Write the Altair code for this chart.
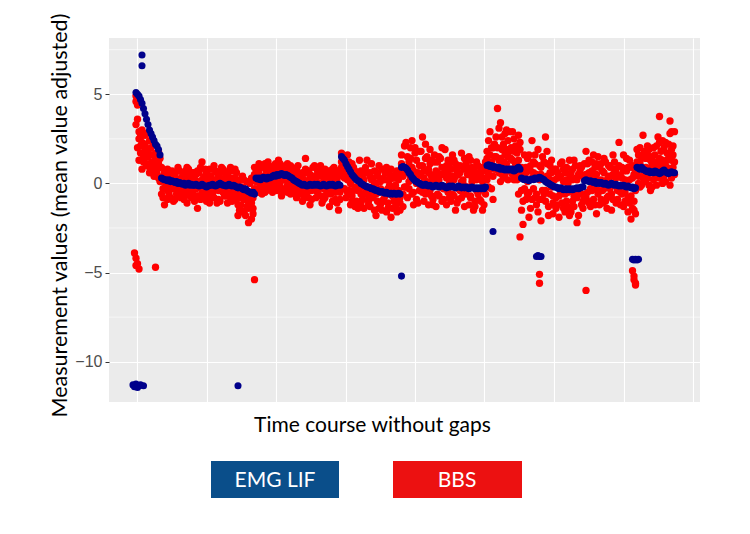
import altair as alt
import pandas as pd

# EMG LIF (blue) series, one value per time step (10 per line)
blue_main = [
    5.1, 5.0, 4.9, 4.7, 4.5, 4.2, 3.9, 3.6, 3.3, 3.0,
    2.8, 2.6, 2.4, 2.2, 2.1, 1.9, 1.6, 0.3, 0.25, 0.2,
    0.2, 0.15, 0.2, 0.1, 0.15, 0.1, 0.05, 0.1, 0.0, 0.05,
    0.0, -0.05, 0.0, -0.1, -0.05, 0.0, -0.1, -0.05, -0.1, -0.1,
    -0.05, -0.1, -0.15, -0.1, -0.05, -0.1, -0.15, -0.2, -0.15, -0.1,
    -0.1, -0.05, -0.1, -0.15, -0.1, -0.05, 0.0, -0.05, -0.1, -0.1,
    -0.15, -0.1, -0.05, -0.1, -0.15, -0.1, -0.15, -0.2, -0.25, -0.2,
    -0.25, -0.3, -0.35, -0.3, -0.4, -0.45, -0.5, -0.55, -0.5, -0.6,
    0.3, 0.25, 0.3, 0.2, 0.3, 0.35, 0.3, 0.25, 0.35, 0.3,
    0.35, 0.4, 0.45, 0.4, 0.5, 0.45, 0.5, 0.55, 0.5, 0.45,
    0.5, 0.45, 0.4, 0.35, 0.3, 0.2, 0.15, 0.1, 0.05, 0.0,
    -0.05, -0.1, -0.05, -0.1, -0.15, -0.1, -0.05, -0.1, -0.1, -0.05,
    -0.1, -0.05, -0.1, -0.15, -0.1, -0.05, -0.1, -0.15, -0.1, -0.05,
    -0.1, -0.05, -0.1, -0.15, -0.1, -0.05, -0.1, 1.5, 1.4, 1.3,
    1.1, 0.95, 0.8, 0.65, 0.5, 0.4, 0.3, 0.2, 0.15, 0.1,
    0.0, -0.05, -0.1, -0.15, -0.2, -0.2, -0.25, -0.3, -0.3, -0.35,
    -0.4, -0.4, -0.45, -0.5, -0.45, -0.5, -0.55, -0.5, -0.55, -0.6,
    -0.55, -0.6, -0.55, -0.6, -0.6, -0.55, -0.6, 0.9, 0.95, 0.9,
    0.85, 0.75, 0.6, 0.5, 0.35, 0.25, 0.15, 0.1, 0.05, 0.0,
    -0.05, -0.1, -0.1, -0.05, -0.1, -0.15, -0.1, -0.15, -0.2, -0.15,
    -0.1, -0.15, -0.2, -0.15, -0.1, -0.15, -0.2, -0.25, -0.2, -0.15,
    -0.2, -0.15, -0.2, -0.25, -0.2, -0.15, -0.2, -0.25, -0.2, -0.25,
    -0.2, -0.25, -0.3, -0.25, -0.2, -0.25, -0.3, -0.25, -0.3, -0.25,
    -0.3, -0.25, -0.3, -0.2, 1.0, 1.05, 0.95, 1.0, 0.9, 0.95,
    0.9, 0.85, 0.9, 0.8, 0.85, 0.8, 0.75, 0.8, 0.75, 0.8,
    0.75, 0.8, 0.7, 0.75, 0.85, 0.9, 0.8, 0.3, 0.25, 0.2,
    0.25, 0.2, 0.15, 0.2, 0.25, 0.2, 0.3, 0.25, 0.3, 0.35,
    0.3, 0.25, 0.2, 0.1, 0.05, 0.0, -0.05, -0.1, -0.15, -0.2,
    -0.2, -0.25, -0.3, -0.25, -0.3, -0.35, -0.3, -0.35, -0.3, -0.35,
    -0.3, -0.35, -0.3, -0.3, -0.25, -0.3, -0.25, -0.2, -0.2, 0.15,
    0.2, 0.15, 0.1, 0.15, 0.1, 0.05, 0.1, 0.0, 0.05, 0.0,
    0.05, 0.0, -0.05, 0.0, -0.05, -0.1, -0.05, 0.0, -0.05, -0.1,
    -0.05, -0.1, -0.15, -0.1, -0.15, -0.1, -0.15, -0.2, -0.15, -0.2,
    -0.25, -0.2, -0.3, -0.25, 0.9, 0.85, 0.8, 0.9, 0.8, 0.75,
    0.7, 0.65, 0.7, 0.6, 0.65, 0.6, 0.7, 0.65, 0.6, 0.55,
    0.6, 0.7, 0.75, 0.65, 0.6, 0.55, 0.6, 0.65, 0.6, 0.6,
]

# BBS (red) series, first reading per time step
red_main = [
    4.9, 4.4, 2.9, 2.1, 3.0, 1.4, 2.7, 1.9, 1.1, 2.4,
    1.6, 0.8, 2.2, 1.3, 0.5, 1.8, 0.9, -0.6, 0.4, -1.2,
    0.5, -0.4, 0.2, -0.8, 0.7, -0.2, 0.3, -0.6, 0.9, 0.0,
    -0.5, 0.6, -0.9, 0.2, -0.3, 0.8, -0.7, 0.4, -0.1, -1.0,
    0.5, -1.4, 0.1, 0.9, -0.4, 0.3, -0.8, 0.6, -0.2, -1.1,
    0.4, -0.6, 1.0, -0.3, 0.2, -0.9, 0.6, -0.1, -0.5, 0.3,
    -0.7, 0.5, -0.2, 0.9, -1.0, 0.1, -0.4, 0.6, -1.2, -0.6,
    -1.5, -0.2, -0.9, -1.8, 0.1, -1.1, -0.5, -2.0, -1.4, -0.3,
    0.8, -0.3, 1.1, 0.2, -0.6, 0.9, 0.4, -0.2, 1.2, 0.0,
    0.6, -0.5, 1.0, 0.3, -0.1, 1.3, 0.5, -0.7, 0.8, 0.2,
    -0.3, 1.1, 0.4, -0.6, 0.9, 0.0, 0.6, -0.8, 0.3, -0.4,
    0.5, -1.0, 0.2, 1.4, -0.5, 0.7, -1.2, 0.1, 0.9, -0.3,
    -0.8, 0.4, -0.2, 1.0, -1.1, 0.3, 0.8, -0.6, 0.1, -1.3,
    0.6, -0.4, 0.9, -0.9, 0.2, -1.5, 0.5, 1.7, 0.4, 1.2,
    -0.8, 1.6, 0.3, -1.2, 1.1, -0.4, 0.7, -1.0, 0.2, 1.3,
    -0.6, 0.5, -1.4, 0.9, -0.2, -1.0, 0.4, 1.1, -0.8, 0.0,
    -1.8, 0.6, -0.5, -1.2, 0.8, -0.9, 0.2, -1.6, -0.3, 0.5,
    -1.9, -0.7, 0.3, -1.3, 0.7, -0.4, -1.1, 1.6, 0.4, 2.1,
    2.3, -0.8, 1.2, 0.3, 2.4, -0.5, 1.7, 0.0, -1.1, 1.0,
    0.5, 2.6, -1.0, 1.4, -0.4, 0.8, 1.9, -0.7, 0.2, 1.2,
    -1.3, 0.6, 1.5, -0.2, 0.9, -0.9, 1.9, 0.3, -0.5, 1.1,
    -1.0, 0.4, 1.3, -1.5, 0.7, -0.3, 1.0, -0.8, 0.2, 1.4,
    -0.6, 0.9, -1.2, 1.3, 0.1, -1.5, 0.6, -0.4, 1.0, -0.9,
    0.4, -1.5, 0.7, -0.6, 1.8, 0.5, 2.9, 1.2, -0.9, 2.2,
    1.5, 4.2, 0.6, 3.4, 1.9, 0.3, 2.8, 1.1, 2.4, 0.7,
    2.0, 1.3, 2.5, 0.4, 1.7, -0.6, 2.3, -1.5, -2.3, 0.5,
    -0.9, 1.4, -1.9, 0.7, 2.4, -0.3, 1.1, -1.2, 1.9, 0.2,
    -2.1, 1.5, -0.6, 2.6, 0.4, -1.3, 1.0, -0.2, -1.7, 0.8,
    -0.8, 0.3, -1.9, 1.1, -0.4, -1.4, 0.6, -1.0, 0.0, 1.3,
    -1.6, 0.2, -0.7, 1.0, -2.2, -0.3, 0.7, -1.2, 0.4, -0.8,
    1.8, -0.5, 0.6, -1.3, 1.2, -0.2, 0.9, -1.7, 1.5, 0.1,
    -0.9, 0.7, -0.3, 1.2, -1.4, 0.4, 0.9, -0.6, 1.6, -0.1,
    -1.1, 0.5, 2.3, -0.5, 0.9, -1.3, 0.2, 1.4, -0.8, 1.3,
    -2.0, 0.3, -1.0, -0.4, 1.2, 0.4, 2.0, 0.9, 2.7, 0.1,
    1.4, 0.3, 1.9, -0.4, 1.1, 0.6, 1.6, -0.1, 0.9, 2.3,
    0.5, 1.3, 2.0, 0.1, 1.7, 0.8, 2.8, 0.3, 2.1, 1.2,
]

# BBS (red) series, second reading per time step
red_second = [
    4.6, 3.6, 2.5, 1.7, 2.3, 1.2, 1.9, 2.8, 1.5, 0.9,
    2.0, 1.2, 0.6, 1.7, 0.9, 0.3, 1.4, 0.2, -0.3, 0.6,
    -0.1, 0.8, -0.6, 0.4, -0.3, 0.6, -0.9, 0.1, -0.4, 0.7,
    0.3, -0.2, 0.5, -0.6, 0.9, -0.4, 0.1, -0.8, 0.6, 0.2,
    -0.3, 0.7, -0.7, 0.0, 1.2, -0.5, 0.4, -1.0, 0.2, 0.8,
    -0.8, 0.1, -0.4, 0.7, -1.1, 0.4, -0.3, 0.9, 0.0, -0.7,
    0.2, -0.5, 0.7, -0.8, 0.3, -0.3, 0.8, -0.9, 0.0, -1.5,
    -0.8, -1.6, 0.2, -0.6, -1.3, -2.2, -0.9, 0.3, -1.7, 0.9,
    0.1, 0.6, -0.5, 0.9, -0.2, 0.4, 1.1, -0.4, 0.6, 0.9,
    -0.2, 0.8, 0.2, 1.1, -0.4, 0.6, 0.0, 1.0, 0.4, -0.3,
    0.7, -0.1, 0.9, 0.2, -0.4, 0.6, -0.6, 0.2, 1.0, -0.1,
    -0.6, 0.3, -0.3, 0.8, 0.0, -0.8, 0.5, -0.4, 0.3, 1.0,
    0.2, -0.5, 0.7, -0.1, 0.5, -0.9, 0.0, 0.6, -0.4, 0.4,
    -0.6, 0.8, -0.2, 0.4, -1.1, 0.7, -0.5, 0.9, 1.5, -0.3,
    0.6, -0.5, 1.2, 0.0, -0.7, 0.9, -1.3, 0.5, -0.4, -1.1,
    0.7, -0.9, 0.2, -0.5, 1.3, -1.2, 0.6, -0.4, 0.3, -1.5,
    0.0, -1.0, 1.0, -0.3, -1.5, 0.3, -0.7, 0.9, -1.1, -0.1,
    0.8, -1.4, -0.3, 0.5, -1.6, 0.2, -0.8, 0.6, -1.3, -0.2,
    0.6, 1.5, -0.3, 2.0, 0.9, -1.2, 0.4, 1.3, 0.6, -0.4,
    1.8, -0.5, 0.7, 2.2, 0.1, -1.2, 1.1, 0.4, -0.9, 1.6,
    0.3, 1.2, -0.7, 0.5, 2.0, -0.3, 0.8, -1.2, 1.3, 0.0,
    0.8, -0.6, 0.2, 1.1, -1.1, 0.5, -0.4, 1.7, 0.0, -1.3,
    1.1, -0.2, 0.6, -0.8, 0.9, 0.3, -1.0, 1.2, -0.6, 0.4,
    -1.0, 0.9, -0.3, 1.2, 0.2, 2.4, 1.6, -0.3, 2.0, 0.8,
    2.6, 0.9, 3.1, 1.4, 0.5, 2.2, 1.6, 3.0, 0.2, 1.8,
    0.8, 2.9, 0.2, 2.1, 1.0, 2.7, 0.6, 0.9, -1.0, 1.6,
    0.6, -0.6, 1.6, -1.4, 0.3, 1.2, -0.8, 0.5, -1.6, 1.0,
    0.5, -0.9, 1.2, -0.4, 1.8, -1.8, 0.6, 1.3, -0.7, -1.2,
    0.8, -1.2, 0.4, -0.6, 1.2, 0.1, -1.6, 0.9, -0.5, -1.8,
    0.6, -1.0, 1.3, -0.4, 0.2, -1.8, 1.0, -0.6, -1.4, 1.1,
    -0.8, 1.1, -1.1, 0.4, -0.4, 1.6, -1.2, 0.5, -0.6, 0.9,
    1.1, -0.4, 1.4, -1.0, 0.2, -0.7, 1.0, -1.5, 0.5, 0.8,
    0.3, -0.9, 1.0, 0.4, -0.6, 1.6, -1.0, 0.7, -1.6, 0.2,
    0.9, -1.4, 0.5, -1.7, 0.6, 1.6, -0.2, 1.4, 0.3, 1.8,
    0.2, 2.1, 0.8, 1.3, -0.2, 2.0, 0.4, 1.2, 2.6, 0.3,
    1.8, 0.0, 1.0, 2.3, 0.6, 1.4, -0.1, 1.9, 0.9, 2.9,
]

# BBS (red) series, third reading per time step
red_third = [
    3.3, 2.0, 1.3, 2.6, 0.8, 1.6, 2.2, 1.0, 1.8, 0.6,
    1.1, 2.5, 0.4, 1.5, 0.7, 1.1, 0.1, 0.9, -0.8, 0.1,
    0.4, -0.9, 0.6, -0.2, 0.0, -1.0, 0.5, -0.3, 0.2, -0.7,
    -0.8, 0.1, -0.4, 0.7, -1.1, 0.3, 0.5, -0.3, -0.6, 0.6,
    0.1, -0.7, 0.6, -0.9, 0.2, -0.2, 0.8, -0.5, 0.4, -0.6,
    -0.3, 0.8, -0.8, 0.2, 0.6, -0.4, -1.0, 0.2, 0.8, -0.2,
    0.5, -1.1, 0.1, -0.4, 0.7, -0.7, 0.3, -0.5, -1.8, 0.2,
    -1.2, 0.4, -1.6, -0.4, -0.7, -1.4, 0.0, -1.1, -0.8, 0.5,
    -0.4, 0.4, 0.7, -0.1, 1.0, 0.1, -0.5, 0.7, 0.1, -0.3,
    0.9, 0.1, -0.3, 0.6, 0.8, -0.2, 1.1, 0.2, -0.4, 0.7,
    0.2, -0.5, 0.6, 1.0, -0.2, 0.4, -0.3, 0.8, -0.6, 0.5,
    0.1, 0.6, -0.8, 0.0, 0.6, -0.4, 0.3, -0.9, -0.2, 0.4,
    -0.4, 0.7, 0.0, -0.7, 0.5, -0.3, -0.8, 0.3, 0.7, -0.5,
    0.2, -1.0, 0.4, -0.5, 0.7, -0.2, -0.9, 1.2, 0.6, 0.3,
    0.9, 0.2, -0.4, 0.8, -1.0, 0.3, -0.2, 0.6, -1.4, -0.3,
    -1.1, 0.3, -0.6, -0.2, 0.6, -0.7, -1.3, 0.2, -0.3, 0.7,
    -0.6, 0.4, -1.4, 0.1, -0.4, -1.0, 0.6, -0.6, -1.4, 0.2,
    -0.5, 0.3, -1.0, -0.1, -0.8, 0.4, -1.5, 1.1, -0.6, 0.8,
    -0.2, 0.9, 0.1, 1.4, -0.6, 0.7, 2.0, -0.9, 0.4, 1.8,
    -0.3, 1.0, 0.3, -0.6, 1.5, 0.6, -0.4, 1.3, -1.2, 0.5,
    0.7, -0.6, 0.2, 1.4, -1.0, 0.5, -0.2, 1.0, 0.6, -0.8,
    0.3, 1.6, -0.7, 0.4, 0.9, -0.9, 0.6, 0.1, -0.5, 0.8,
    -0.3, 0.5, 1.5, -0.7, 0.3, 0.8, -1.3, 0.2, 0.6, -0.4,
    0.7, 0.1, -1.2, 0.3, 1.4, -0.2, 0.8, 2.0, 0.4, 1.5,
    0.8, 2.0, 1.3, 0.1, 2.6, 1.2, 0.5, 1.9, 1.5, 2.9,
    1.4, 0.5, 1.8, 1.1, 0.2, 1.3, 1.9, -0.4, 0.3, -0.3,
    0.9, 0.1, -0.5, 1.0, -0.9, 0.6, 1.6, -0.6, 0.4, -0.9,
    0.9, -0.4, 0.3, -1.0, 1.1, 0.3, -0.6, 0.6, -1.1, 0.2,
    -1.4, 0.6, -0.7, 0.4, -1.1, 0.8, -0.6, 0.2, -1.3, 0.5,
    -0.4, 0.8, -1.3, 0.3, -0.8, 0.5, -0.5, 0.9, -1.0, 0.3,
    0.5, -1.0, 1.3, -0.3, 0.7, -0.9, 0.3, 1.1, -0.4, -1.2,
    0.2, -1.1, 0.6, 0.1, -0.8, 1.0, -0.3, 0.4, -0.9, 1.2,
    0.8, -0.4, 0.4, -1.2, 0.3, 0.7, -0.5, -0.2, 0.9, -1.1,
    -0.7, 1.0, -1.5, 0.7, 1.9, 0.0, 1.1, -0.1, 1.6, 0.6,
    0.9, 1.6, -0.1, 0.7, 1.5, 0.2, 1.0, 2.1, 0.4, 1.4,
    1.0, 2.4, 0.4, 1.2, 0.9, 2.2, 0.7, 1.3, 1.6, 0.5,
]

# isolated readings (time step, value)
blue_out_t = [-2, -1, 0, 1, 2, 3, 5, 4, 4, 68, 177, 238, 267, 268, 269, 270, 331, 332, 333, 334, 335]
blue_out_v = [-11.3, -11.4, -11.25, -11.45, -11.35, -11.3, -11.35, 7.2, 6.6, -11.35, -5.2, -2.7,
              -4.1, -4.05, -4.1, -4.1, -4.25, -4.3, -4.25, -4.3, -4.25]
red_out_t = [-1, 0, 0, 1, 2, 13, 79, 256, 269, 269, 300, 331, 332, 332, 333, 333, 349, 356, 357]
red_out_v = [-3.9, -4.2, -4.6, -4.5, -4.8, -4.7, -5.4, -3.0, -5.1, -5.6, -6.0,
             -4.9, -5.2, -5.4, -5.6, -5.7, 3.75, 3.5, 2.9]

assert len(blue_main) == 360 and len(red_main) == 360
assert len(red_second) == 360 and len(red_third) == 360

y_ticks = [-10, -5, 0, 5]
y_minor = [-7.5, -2.5, 2.5, 7.5]
x_grid = [0.67, 47, 93.33, 139.67, 186, 232.33, 278.67, 325, 371.33]
legend_labels = ["EMG LIF", "BBS"]

steps = list(range(360))
blue_df = pd.DataFrame({"t": steps + blue_out_t, "v": blue_main + blue_out_v})
red_df = pd.DataFrame({
    "t": steps + steps + steps + red_out_t,
    "v": red_main + red_second + red_third + red_out_v,
})

xscale = alt.Scale(domain=[-18, 376], nice=False, zero=False)
yscale = alt.Scale(domain=[-12.26, 8.155], nice=False, zero=False)

xaxis = alt.Axis(values=x_grid, labels=False, ticks=False, domain=False, grid=True,
                 gridColor="white", gridWidth=1.1, title="Time course without gaps",
                 titleFont="Lato", titleFontSize=21, titleFontWeight="normal", titleColor="black",
                 titleX=263, titleY=29, titleBaseline="alphabetic", titleAlign="center")
yaxis = alt.Axis(values=y_ticks, domain=False, grid=True, gridColor="white", gridWidth=1.2,
                 ticks=True, tickColor="#333333", tickSize=4, tickWidth=1,
                 labelColor="#4D4D4D", labelFont="Liberation Sans", labelFontSize=16, labelPadding=3,
                 title="Measurement values (mean value adjusted)",
                 titleFont="Lato", titleFontSize=21.5, titleFontWeight="normal", titleColor="black",
                 titleAngle=270, titleX=-43, titleY=177, titleBaseline="alphabetic", titleAlign="center")

minor = alt.Chart(pd.DataFrame({"y": y_minor})).mark_rule(color="white", strokeWidth=0.6).encode(
    y=alt.Y("y:Q", scale=yscale, axis=yaxis)
)

red_pts = alt.Chart(red_df).mark_circle(size=54, color="#FF0000", opacity=1).encode(
    x=alt.X("t:Q", scale=xscale, axis=xaxis),
    y=alt.Y("v:Q", scale=yscale, axis=yaxis),
)
blue_pts = alt.Chart(blue_df).mark_circle(size=50, color="#00008B", opacity=1).encode(
    x=alt.X("t:Q", scale=xscale, axis=xaxis),
    y=alt.Y("v:Q", scale=yscale, axis=yaxis),
)

leg_df = pd.DataFrame({"label": legend_labels})
leg_emg_box = alt.Chart(leg_df).transform_filter(alt.datum.label == "EMG LIF").mark_rect(color="#0A4E8A").encode(
    x=alt.value(102), x2=alt.value(230), y=alt.value(423), y2=alt.value(460)
)
leg_bbs_box = alt.Chart(leg_df).transform_filter(alt.datum.label == "BBS").mark_rect(color="#EC1111").encode(
    x=alt.value(284), x2=alt.value(413), y=alt.value(423), y2=alt.value(460)
)
leg_emg_txt = alt.Chart(leg_df).transform_filter(alt.datum.label == "EMG LIF").mark_text(
    color="white", font="Lato", fontSize=21, align="center", baseline="alphabetic"
).encode(x=alt.value(166), y=alt.value(449), text="label:N")
leg_bbs_txt = alt.Chart(leg_df).transform_filter(alt.datum.label == "BBS").mark_text(
    color="white", font="Lato", fontSize=21, align="center", baseline="alphabetic"
).encode(x=alt.value(348), y=alt.value(449), text="label:N")

chart = alt.layer(
    minor, red_pts, blue_pts, leg_emg_box, leg_bbs_box, leg_emg_txt, leg_bbs_txt
).properties(
    width=591, height=364,
    autosize=alt.AutoSizeParams(type="none"),
    padding={"left": 101, "top": 30, "right": 34, "bottom": 110},
    background="white",
).configure_view(fill="#EBEBEB", strokeWidth=0)

chart.save("out.html", embed_options={"renderer": "svg", "actions": False})
